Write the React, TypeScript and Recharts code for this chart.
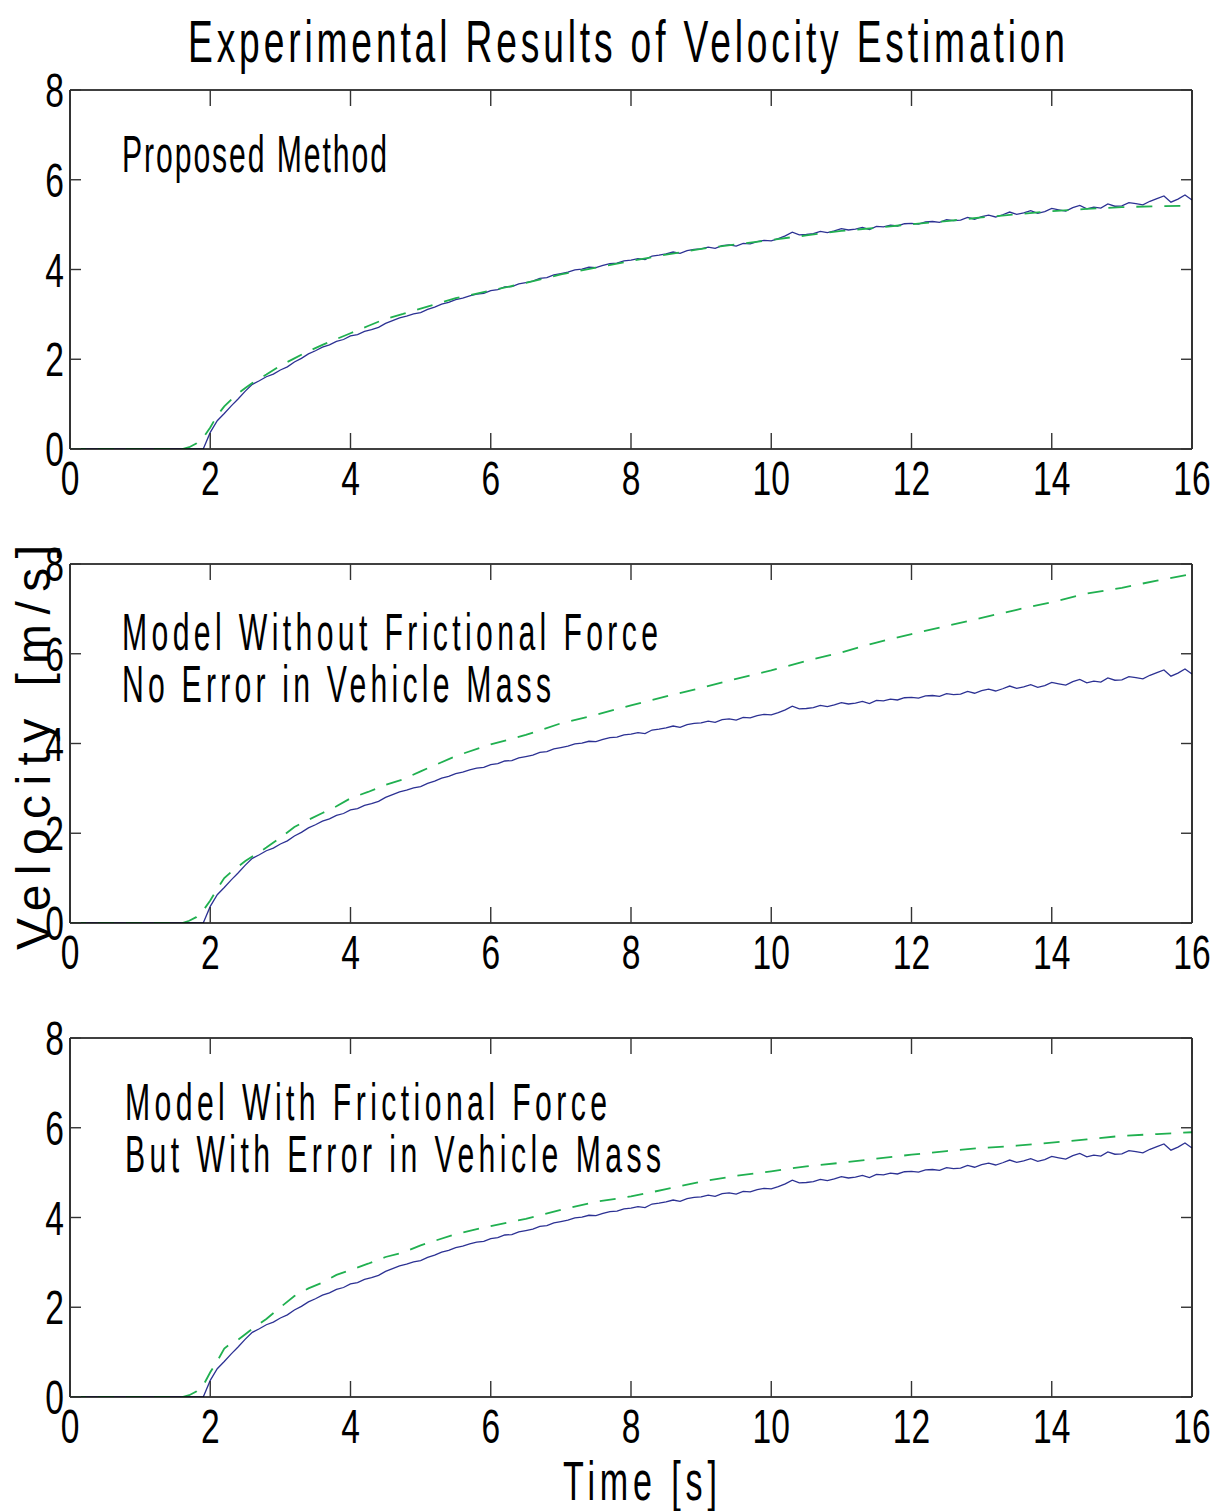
import { LineChart, Line, XAxis, YAxis } from 'recharts';

// measured velocity, sampled every 0.1 s from 0 to 16 s
const measuredVelocity = [
  0, 0, 0, 0, 0, 0, 0, 0, 0, 0,
  0, 0, 0, 0, 0, 0, 0, 0, 0, 0,
  0.37, 0.63, 0.79, 0.96, 1.12, 1.29, 1.44, 1.52, 1.61, 1.67,
  1.76, 1.83, 1.94, 2.02, 2.12, 2.19, 2.27, 2.32, 2.4, 2.44,
  2.52, 2.55, 2.62, 2.66, 2.71, 2.8, 2.86, 2.92, 2.96, 3.01,
  3.04, 3.11, 3.16, 3.23, 3.27, 3.33, 3.36, 3.41, 3.45, 3.47,
  3.53, 3.55, 3.61, 3.62, 3.68, 3.71, 3.74, 3.8, 3.82, 3.88,
  3.91, 3.94, 3.99, 4.01, 4.05, 4.04, 4.09, 4.13, 4.14, 4.19,
  4.21, 4.24, 4.22, 4.3, 4.32, 4.35, 4.39, 4.36, 4.42, 4.45,
  4.46, 4.5, 4.47, 4.53, 4.55, 4.52, 4.58, 4.57, 4.62, 4.65,
  4.64, 4.69, 4.75, 4.83, 4.77, 4.78, 4.8, 4.85, 4.82, 4.86,
  4.91, 4.88, 4.9, 4.94, 4.89, 4.96, 4.95, 4.99, 4.97, 5.02,
  5.03, 5.01, 5.06, 5.07, 5.05, 5.11, 5.09, 5.1, 5.16, 5.12,
  5.18, 5.21, 5.17, 5.22, 5.28, 5.23, 5.26, 5.31, 5.25, 5.29,
  5.36, 5.33, 5.3, 5.38, 5.43, 5.35, 5.39, 5.37, 5.46, 5.41,
  5.42, 5.49, 5.47, 5.44, 5.52, 5.58, 5.64, 5.5, 5.57, 5.66,
  5.55,
];

const estimateTime = [
  0, 1.6, 1.7, 1.8, 1.9, 2.0, 2.1, 2.2, 2.3, 2.4,
  2.5, 2.6, 2.8, 3.0, 3.2, 3.4, 3.6, 3.8, 4.0, 4.25,
  4.5, 4.75, 5.0, 5.5, 6.0, 6.5, 7.0, 7.5, 8.0, 8.5,
  9.0, 9.5, 10.0, 10.5, 11.0, 11.5, 12.0, 12.5, 13.0, 13.5,
  14.0, 14.5, 15.0, 15.5, 16.0,
];

const proposedEstimate = [
  0, 0, 0.04, 0.12, 0.25, 0.48, 0.75, 0.95, 1.1, 1.24,
  1.36, 1.47, 1.66, 1.86, 2.02, 2.18, 2.32, 2.45, 2.58, 2.74,
  2.9, 3.01, 3.13, 3.36, 3.53, 3.7, 3.89, 4.04, 4.19, 4.33,
  4.46, 4.56, 4.66, 4.76, 4.86, 4.93, 5.01, 5.08, 5.16, 5.23,
  5.3, 5.35, 5.39, 5.41, 5.42,
];

const noFrictionEstimate = [
  0, 0, 0.05, 0.13, 0.28, 0.5, 0.76, 1.0, 1.14, 1.26,
  1.38, 1.48, 1.68, 1.9, 2.14, 2.3, 2.45, 2.6, 2.78, 2.92,
  3.08, 3.2, 3.38, 3.72, 3.98, 4.19, 4.45, 4.64, 4.85, 5.05,
  5.24, 5.44, 5.63, 5.84, 6.03, 6.25, 6.44, 6.62, 6.8, 6.98,
  7.15, 7.34, 7.47, 7.63, 7.78,
];

const massErrorEstimate = [
  0, 0, 0.04, 0.12, 0.26, 0.55, 0.8, 1.08, 1.2, 1.28,
  1.4, 1.52, 1.74, 2.0, 2.25, 2.42, 2.55, 2.72, 2.83, 2.97,
  3.12, 3.22, 3.38, 3.63, 3.81, 3.97, 4.17, 4.35, 4.47, 4.63,
  4.8, 4.93, 5.03, 5.14, 5.22, 5.31, 5.4, 5.48, 5.55, 5.6,
  5.67, 5.74, 5.82, 5.86, 5.9,
];

const timeTicks = [0, 2, 4, 6, 8, 10, 12, 14, 16];
const velocityTicks = [0, 2, 4, 6, 8];

const panelNotes = [
  ['Proposed Method'],
  ['Model Without Frictional Force', 'No Error in Vehicle Mass'],
  ['Model With Frictional Force', 'But With Error in Vehicle Mass'],
];

const measuredRows = measuredVelocity.map((v, i) => ({ t: i / 10, v }));
const toRows = (vals: number[]) => estimateTime.map((t, i) => ({ t, v: vals[i] }));
const estimates = [toRows(proposedEstimate), toRows(noFrictionEstimate), toRows(massErrorEstimate)];

const FONT = '"Liberation Sans", Arial, Helvetica, sans-serif';
const BLUE = '#2c3193';
const GREEN = '#20b050';
const TICK = '#333';

const W = 1215;
const TOP_PAD = 90;
const PLOT_H = 359;
const BOTTOM_PAD = 60;
const PANEL_STEP = 474;

function Digits({ x, y, anchor, value }: { x: number; y: number; anchor: string; value: any }) {
  return (
    <text
      transform={`translate(${x} ${y}) scale(0.7 1)`}
      textAnchor={anchor}
      fontSize={48}
      fontFamily={FONT}
      fill="#000"
    >
      {value}
    </text>
  );
}

function BottomTick(props: any) {
  const { x, y, payload } = props;
  return (
    <g>
      <line x1={x} y1={y} x2={x} y2={y - 16} stroke={TICK} strokeWidth={1.4} />
      <Digits x={x} y={y + 46} anchor="middle" value={payload.value} />
    </g>
  );
}

function TopTick(props: any) {
  const { x, y } = props;
  return <line x1={x} y1={y} x2={x} y2={y + 16} stroke={TICK} strokeWidth={1.4} />;
}

function LeftTick(props: any) {
  const { x, y, payload } = props;
  return (
    <g>
      <line x1={x} y1={y} x2={x + 11} y2={y} stroke={TICK} strokeWidth={1.4} />
      <Digits x={x - 6} y={y + 17} anchor="end" value={payload.value} />
    </g>
  );
}

function RightTick(props: any) {
  const { x, y } = props;
  return <line x1={x} y1={y} x2={x - 11} y2={y} stroke={TICK} strokeWidth={1.4} />;
}

function NarrowText({ x, y, width, size, scale = 0.6, children }: any) {
  return (
    <text
      transform={`translate(${x} ${y}) scale(${scale} 1)`}
      fontSize={size}
      fontFamily={FONT}
      fill="#000"
      textLength={width / scale}
      lengthAdjust="spacing"
    >
      {children}
    </text>
  );
}

function Panel({ estimate }: { estimate: { t: number; v: number }[] }) {
  const axisLine = { stroke: '#000', strokeWidth: 1.6 };
  return (
    <LineChart
      width={W}
      height={TOP_PAD + PLOT_H + BOTTOM_PAD}
      margin={{ top: 0, right: 0, bottom: 0, left: 0 }}
    >
      <XAxis
        dataKey="t"
        type="number"
        domain={[0, 16]}
        ticks={timeTicks}
        interval={0}
        allowDataOverflow
        height={BOTTOM_PAD}
        tickSize={0}
        tickMargin={0}
        tickLine={false}
        axisLine={axisLine}
        tick={<BottomTick />}
      />
      <XAxis
        xAxisId="top"
        orientation="top"
        dataKey="t"
        type="number"
        domain={[0, 16]}
        ticks={timeTicks}
        interval={0}
        allowDataOverflow
        height={TOP_PAD}
        tickSize={0}
        tickMargin={0}
        tickLine={false}
        axisLine={axisLine}
        tick={<TopTick />}
      />
      <YAxis
        type="number"
        domain={[0, 8]}
        ticks={velocityTicks}
        interval={0}
        allowDataOverflow
        width={70}
        tickSize={0}
        tickMargin={0}
        tickLine={false}
        axisLine={axisLine}
        tick={<LeftTick />}
      />
      <YAxis
        yAxisId="right"
        orientation="right"
        type="number"
        domain={[0, 8]}
        ticks={velocityTicks}
        interval={0}
        allowDataOverflow
        width={23}
        tickSize={0}
        tickMargin={0}
        tickLine={false}
        axisLine={axisLine}
        tick={<RightTick />}
      />
      <Line
        data={measuredRows}
        dataKey="v"
        type="linear"
        stroke={BLUE}
        strokeWidth={1.3}
        dot={false}
        isAnimationActive={false}
      />
      <Line
        data={estimate}
        dataKey="v"
        type="linear"
        stroke={GREEN}
        strokeWidth={1.8}
        strokeDasharray="16 12"
        dot={false}
        isAnimationActive={false}
      />
    </LineChart>
  );
}

export default function App() {
  const noteX = [122, 122, 125];
  const noteY = [[172], [650, 702], [1120, 1172]];
  const noteW = [[265], [536, 429], [482, 536]];
  return (
    <div style={{ position: 'absolute', left: 0, top: 0, width: W, height: 1511, background: '#fff' }}>
      {estimates.map((est, i) => (
        <div key={i} style={{ position: 'absolute', left: 0, top: i * PANEL_STEP }}>
          <Panel estimate={est} />
        </div>
      ))}
      <svg
        width={W}
        height={1511}
        style={{ position: 'absolute', left: 0, top: 0, pointerEvents: 'none' }}
      >
        <NarrowText x={188} y={62} width={877} size={60} scale={0.62}>
          Experimental Results of Velocity Estimation
        </NarrowText>
        {panelNotes.map((lines, i) =>
          lines.map((line, j) => (
            <NarrowText key={`${i}-${j}`} x={noteX[i]} y={noteY[i][j]} width={noteW[i][j]} size={52} scale={0.58}>
              {line}
            </NarrowText>
          ))
        )}
        <NarrowText x={563} y={1500} width={154} size={55} scale={0.62}>
          Time [s]
        </NarrowText>
        <text
          transform="translate(50 950) rotate(-90)"
          fontSize={48}
          fontFamily={FONT}
          fill="#000"
          textLength={405}
          lengthAdjust="spacing"
        >
          Velocity [m/s]
        </text>
      </svg>
    </div>
  );
}
